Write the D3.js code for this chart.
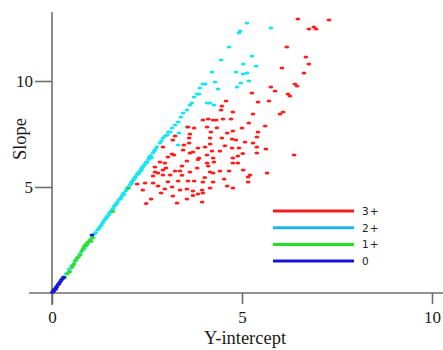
<!DOCTYPE html>
<html>
<head>
<meta charset="utf-8">
<script src="https://cdn.jsdelivr.net/npm/d3@7"></script>
<style>
  body { margin: 0; background: #fff; }
  svg { display: block; }
</style>
</head>
<body>
<div id="chart"></div>
<script>
// series, [y-intercept, slope]
const red3 = [
  [6.47,12.92],[7.29,12.88],[6.76,12.45],[6.89,12.55],[6.95,12.45],[6.68,11.13],[6.76,10.80],[6.63,10.38],
  [6.05,10.61],[6.18,11.60],[6.39,9.86],[6.45,9.76],[6.21,9.39],[6.26,9.29],[6.08,8.54],[6.00,8.44],
  [6.37,6.51],[5.76,9.72],[5.87,9.53],[5.26,9.43],[4.58,9.06],[5.42,9.01],[5.71,9.06],[4.47,8.82],
  [4.45,8.63],[4.76,8.54],[5.29,8.44],
  [3.97,8.16],[4.11,8.21],[4.24,8.16],[4.32,8.16],[4.50,8.21],[4.71,8.21],[5.18,8.02],[5.61,7.88],
  [3.58,7.83],[3.74,7.78],[4.08,7.83],[4.18,7.59],[4.76,7.64],[5.00,7.78],[5.42,7.59],[3.24,7.41],
  [3.63,7.50],[3.61,7.31],[4.16,7.31],[4.47,7.31],[4.61,7.55],[4.74,7.26],[4.84,7.22],[5.08,7.12],
  [5.39,7.36],[5.29,7.08],[3.18,7.22],[3.61,7.08],[3.84,6.84],[4.03,6.89],[4.16,7.03],[2.92,6.89],
  [4.74,6.84],[4.92,6.84],[5.39,6.89],[5.63,6.79],[4.21,6.70],[4.42,6.70],[3.45,6.75],[3.71,6.65],
  [3.16,6.56],[3.05,6.42],[3.63,6.60],[5.39,6.60],[3.87,6.37],[4.08,6.51],[4.24,6.37],[4.76,6.37],
  [4.89,6.46],[2.84,6.18],[3.55,6.23],[3.84,6.30],[4.26,6.18],[4.76,6.13],[4.89,6.13],[2.97,6.13],
  [2.71,5.94],[3.00,5.90],[3.42,5.99],[4.08,6.13],[4.11,5.99],[4.66,5.75],[4.42,5.75],[5.03,5.80],
  [5.16,5.47],[5.21,5.57],[5.66,5.66],[4.24,5.66],[4.16,5.71],[3.82,5.90],[3.63,5.71],[3.37,5.75],
  [3.24,5.75],[3.11,5.57],[2.92,5.57],[2.79,5.66],[2.66,5.52],[3.32,5.28],[3.58,5.28],[3.74,5.28],
  [3.97,5.24],[4.24,5.24],[4.61,5.05],[4.76,4.95],[5.16,5.24],[2.79,5.05],[2.97,4.91],[3.16,5.00],
  [3.37,4.86],[3.55,4.91],[3.71,4.81],[3.95,4.86],[4.16,4.95],[3.97,4.72],[3.84,4.67],[3.71,4.60],
  [2.87,4.72],[3.18,4.58],[3.55,4.43],[3.95,4.29],[3.29,4.25],[2.61,4.43],
  [3.21,6.51],[2.92,5.80],[2.71,5.71],[2.66,5.19],[2.45,5.19],[2.24,5.14],[2.39,4.86],[2.48,4.22],
  [4.34,7.80],[4.55,6.95],[3.47,6.98],[4.02,5.45],[4.53,5.38],[3.42,5.55],[3.05,5.25],[5.02,6.58]
];

const cyan2 = [
  [5.13,12.74],[5.76,12.50],[4.95,12.36],[4.92,12.26],[4.66,11.60],[4.45,10.99],[5.26,11.18],[5.03,10.80],
  [5.37,10.71],[4.21,10.42],[4.84,10.42],[5.03,10.33],[5.13,10.38],[5.18,10.00],[4.29,9.95],[4.97,9.91],
  [3.97,9.86],[4.03,9.86],[4.37,9.62],[4.87,9.72],[3.89,9.67],[3.82,9.39],[3.87,9.39],[3.74,9.25],
  [3.68,8.96],[4.08,8.96],[4.16,8.96],[4.26,8.87],[3.63,8.87],[3.55,8.63],[3.45,8.49],[3.39,8.30],
  [3.32,8.07],[3.24,7.92],[3.16,7.78],[3.11,7.59],[3.03,7.45],[2.92,7.31],[2.84,7.08],[2.76,6.89],
  [3.55,7.83],[3.34,7.55],[3.32,6.98],[3.06,7.60],[2.98,7.40],[2.88,7.18],
  [0.30,0.74],[0.38,0.92],[0.45,1.12],[0.52,1.28],[0.60,1.50],[0.68,1.68],[0.75,1.86],[0.82,2.05],
  [0.90,2.22],[0.97,2.42],[1.05,2.60],[1.12,2.78],[1.20,2.98],[1.27,3.15],[1.33,3.30],[1.40,3.48],
  [1.46,3.62],[1.52,3.80],[1.58,3.92],[1.64,4.10],[1.70,4.22],[1.76,4.40],[1.82,4.52],[1.88,4.70],
  [1.94,4.82],[2.00,5.00],[2.06,5.12],[2.12,5.30],[2.18,5.42],[2.24,5.60],[2.30,5.72],[2.36,5.88],
  [2.42,6.02],[2.48,6.18],[2.54,6.30],[2.60,6.48],[2.66,6.62],[2.72,6.78],
  [1.50,3.70],[1.72,4.28],[1.90,4.66],[2.10,5.20],[2.20,5.50],[2.35,5.80],[2.50,6.15],[2.62,6.38],
  [1.30,3.20],[1.15,2.85],[1.00,2.45],[0.85,2.10],[2.28,5.62],[2.56,6.40],[2.02,4.96],[1.80,4.44],
  [1.24,3.06],[1.36,3.40],[1.43,3.55],[1.55,3.86],[1.61,4.00],[1.67,4.16],[1.85,4.60],[1.97,4.90],
  [2.09,5.22],[2.15,5.36],[2.27,5.66],[2.39,5.96],[2.45,6.10],[2.69,6.70],[2.58,6.44],[2.33,5.78]
];

const green1 = [
  [0.34,0.72],[0.40,0.90],[0.44,0.98],[0.47,1.02],[0.52,1.20],[0.55,1.30],[0.58,1.38],[0.63,1.55],
  [0.66,1.65],[0.70,1.72],[0.74,1.80],[0.78,1.98],[0.82,2.10],[0.85,2.20],[0.88,2.26],[0.90,2.32],
  [0.95,2.40],[1.00,2.50],[1.03,2.44],[1.05,2.60],[1.08,2.62],[0.93,2.30],[1.60,3.85],[2.00,4.95]
];

const blue0 = [
  [0.01,0.03],[0.03,0.07],[0.04,0.10],[0.07,0.17],[0.08,0.18],[0.10,0.24],[0.12,0.28],[0.13,0.32],
  [0.16,0.40],[0.19,0.46],[0.22,0.54],[0.25,0.62],[0.28,0.68],[0.31,0.76],[0.10,0.20],[0.18,0.42],
  [0.05,0.14],[1.05,2.74]
];

const xTicks = [0, 5, 10];
const yTicks = [5, 10];
const legendLabels = ['3+', '2+', '1+', '0'];
const legendColors = ['#f01c1c', '#1cb4ec', '#22e022', '#1414d8'];

const W = 443, H = 350;
const svg = d3.select('#chart').append('svg').attr('width', W).attr('height', H);

const x = d3.scaleLinear().domain([0, 10]).range([52, 432]);
const y = d3.scaleLinear().domain([0, 10]).range([293, 81]);

const axisColor = '#6e6e6e';
const serif = '"Liberation Serif", "Times New Roman", serif';

// axis lines
svg.append('line')
  .attr('x1', x(0) - 23).attr('x2', W)
  .attr('y1', y(0)).attr('y2', y(0))
  .attr('stroke', axisColor).attr('stroke-width', 1.6);
svg.append('line')
  .attr('x1', x(0)).attr('x2', x(0))
  .attr('y1', y(13.25)).attr('y2', y(0) + 12)
  .attr('stroke', axisColor).attr('stroke-width', 1.6);

const gx = svg.append('g')
  .attr('transform', `translate(0,${y(0)})`)
  .call(d3.axisBottom(x).tickValues(xTicks).tickSize(11).tickPadding(7).tickFormat(d3.format('d')));
const gy = svg.append('g')
  .attr('transform', `translate(${x(0)},0)`)
  .call(d3.axisLeft(y).tickValues(yTicks).tickSize(17).tickPadding(2).tickFormat(d3.format('d')));

[gx, gy].forEach(g => {
  g.select('.domain').remove();
  g.selectAll('line').attr('stroke', axisColor).attr('stroke-width', 1.6);
  g.selectAll('text').attr('fill', '#1a1a1a').style('font-family', serif).style('font-size', '17px');
});

svg.append('text')
  .attr('x', 245).attr('y', 344)
  .attr('text-anchor', 'middle')
  .style('font-family', serif).style('font-size', '18.5px').attr('fill', '#1a1a1a')
  .text('Y-intercept');
svg.append('text')
  .attr('transform', `translate(26,139) rotate(-90)`)
  .attr('text-anchor', 'middle')
  .style('font-family', serif).style('font-size', '18.5px').attr('fill', '#1a1a1a')
  .text('Slope');

// points
function dots(data, color) {
  svg.append('g').selectAll('ellipse')
    .data(data)
    .join('ellipse')
    .attr('cx', d => x(d[0]))
    .attr('cy', d => y(d[1]))
    .attr('rx', 2.4)
    .attr('ry', 1.5)
    .attr('fill', color);
}
dots(cyan2, '#18e4f2');
dots(red3, '#ff1e1e');
dots(green1, '#2ee02e');
dots(blue0, '#1a1ad8');

// legend
const legend = svg.append('g');
legendLabels.forEach((lab, i) => {
  const ly = 211 + i * 16.7;
  legend.append('line')
    .attr('x1', 273).attr('x2', 354)
    .attr('y1', ly).attr('y2', ly)
    .attr('stroke', legendColors[i]).attr('stroke-width', 3);
  legend.append('text')
    .attr('x', 362).attr('y', ly + 4)
    .style('font-family', '"DejaVu Sans", Verdana, sans-serif')
    .style('font-size', '10.5px')
    .style('letter-spacing', '1px')
    .attr('fill', '#222')
    .text(lab);
});
</script>
</body>
</html>
